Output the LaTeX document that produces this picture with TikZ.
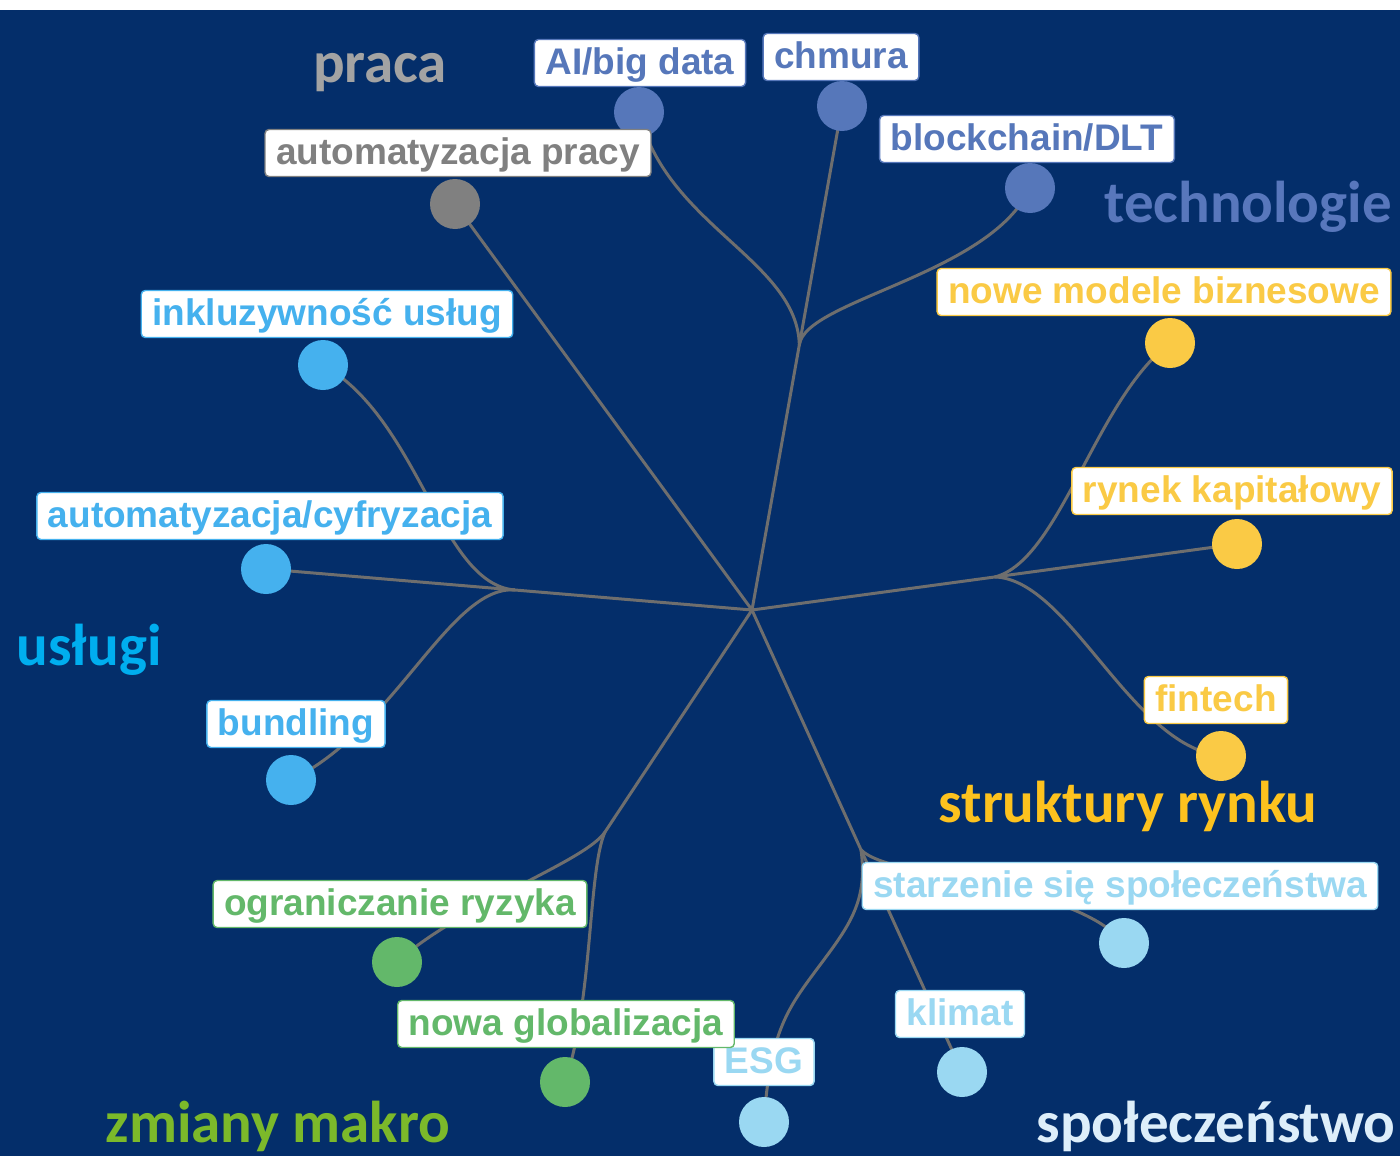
\documentclass[tikz,border=0pt]{standalone}
\usepackage{fontspec}
\newfontfamily\leaffont{Liberation Sans}
\newfontfamily\catfont{Carlito}
\usetikzlibrary{calc}
\pgfdeclarelayer{backdrop}
\pgfdeclarelayer{links}
\pgfsetlayers{backdrop,links,main}

\definecolor{navy}{HTML}{042E6A}
\definecolor{linkgray}{HTML}{6E6E6E}
% category colours
\definecolor{catPraca}{HTML}{A3A3A3}
\definecolor{catTech}{HTML}{5877BC}
\definecolor{catUslugi}{HTML}{00AEEF}
\definecolor{catRynek}{HTML}{FDC21E}
\definecolor{catMakro}{HTML}{7CB92A}
\definecolor{catSpol}{HTML}{DDEEFA}
% leaf colours
\definecolor{lfPraca}{HTML}{808080}
\definecolor{lfTech}{HTML}{5677BA}
\definecolor{lfUslugi}{HTML}{45B1EE}
\definecolor{lfRynek}{HTML}{FACA45}
\definecolor{lfMakro}{HTML}{63B86A}
\definecolor{lfSpol}{HTML}{9AD8F2}

\tikzset{
  leafbox/.style={draw=#1, text=#1, fill=white, rounded corners=4pt,
    line width=1.4pt, font=\leaffont\bfseries\fontsize{37}{40}\selectfont,
    inner xsep=11pt, inner ysep=0pt, minimum height=47pt,
    text height=30pt, text depth=7pt},
  leafdot/.style={circle, fill=#1, minimum size=50pt, inner sep=0pt},
  catlabel/.style={font=\catfont\bfseries\fontsize{59}{62}\selectfont,
    anchor=base, inner sep=0pt, text=#1},
  link/.style={draw=linkgray, line width=3pt, line cap=round, line join=round},
}

\begin{document}
\begin{tikzpicture}[x=1pt,y=-1pt]
\useasboundingbox (0,0) rectangle (1400,1156);
\begin{pgfonlayer}{backdrop}
  \fill[white] (0,0) rectangle (1400,10);
  \fill[navy] (0,10) rectangle (1400,1156);
\end{pgfonlayer}

% hub
\coordinate (hub) at (752,610);

% leaf dots
\node[leafdot=lfPraca]  (dAP) at (455,204) {};
\node[leafdot=lfTech]   (dAI) at (639,112) {};
\node[leafdot=lfTech]   (dCh) at (842,106) {};
\node[leafdot=lfTech]   (dBC) at (1030,188) {};
\node[leafdot=lfUslugi] (dIn) at (323,365) {};
\node[leafdot=lfUslugi] (dAC) at (266,569) {};
\node[leafdot=lfUslugi] (dBu) at (291,780) {};
\node[leafdot=lfRynek]  (dNM) at (1170,343) {};
\node[leafdot=lfRynek]  (dRy) at (1237,544) {};
\node[leafdot=lfRynek]  (dFi) at (1221,756) {};
\node[leafdot=lfSpol]   (dSt) at (1124,943) {};
\node[leafdot=lfSpol]   (dKl) at (962,1072) {};
\node[leafdot=lfSpol]   (dES) at (764,1122) {};
\node[leafdot=lfMakro]  (dOg) at (397,962) {};
\node[leafdot=lfMakro]  (dNG) at (565,1082) {};

% branch points
\coordinate (bT) at ($(hub)!0.526!(dCh)$);
\coordinate (bU) at ($(hub)!0.488!(dAC)$);
\coordinate (bS) at ($(hub)!0.501!(dRy)$);
\coordinate (bP) at ($(hub)!0.519!(dKl)$);
\coordinate (bM) at (605,832);

% leaf labels
\node[leafbox=lfTech]   (tAI) at (640,63)   {AI/big data};
\node[leafbox=lfTech]   (tCh) at (841,57)   {chmura};
\node[leafbox=lfTech]   (tBC) at (1027,139) {blockchain/DLT};
\node[leafbox=lfPraca]  (tAP) at (458,153)  {automatyzacja pracy};
\node[leafbox=lfUslugi] (tIn) at (327,314)  {inkluzywność usług};
\node[leafbox=lfUslugi] (tAC) at (270,516)  {automatyzacja/cyfryzacja};
\node[leafbox=lfUslugi] (tBu) at (296,724)  {bundling};
\node[leafbox=lfRynek]  (tNM) at (1164,292) {nowe modele biznesowe};
\node[leafbox=lfRynek]  (tRy) at (1232,491) {rynek kapitałowy};
\node[leafbox=lfRynek]  (tFi) at (1216,700) {fintech};
\node[leafbox=lfSpol]   (tSt) at (1120,886) {starzenie się społeczeństwa};
\node[leafbox=lfSpol]   (tKl) at (960,1014) {klimat};
\node[leafbox=lfSpol]   (tES) at (764,1062) {ESG};
\node[leafbox=lfMakro]  (tOg) at (400,904)  {ograniczanie ryzyka};
\node[leafbox=lfMakro]  (tNG) at (566,1024) {nowa globalizacja};

% category titles
\node[catlabel=catPraca]  (cPraca)  at (380,82)    {praca};
\node[catlabel=catTech]   (cTech)   at (1248,222)  {technologie};
\node[catlabel=catUslugi] (cUslugi) at (89,665)    {usługi};
\node[catlabel=catRynek]  (cRynek)  at (1128,822)  {struktury rynku};
\node[catlabel=catMakro]  (cMakro)  at (278,1142)  {zmiany makro};
\node[catlabel=catSpol]   (cSpol)   at (1216,1142) {społeczeństwo};

% tree connectors
\begin{pgfonlayer}{links}
  \draw[link] (hub) -- (dAP.center);
  \draw[link] (hub) -- (dCh.center);
  \draw[link] (bT) .. controls (797,260) and (665,225) .. (dAI.center);
  \draw[link] (bT) .. controls (805,300) and (990,275) .. (dBC.center);
  \draw[link] (hub) -- (dAC.center);
  \draw[link] (bU) .. controls (440,584) and (420,420) .. (dIn.center);
  \draw[link] (bU) .. controls (450,585) and (395,730) .. (dBu.center);
  \draw[link] (hub) -- (dRy.center);
  \draw[link] (bS) .. controls (1060,560) and (1095,400) .. (dNM.center);
  \draw[link] (bS) .. controls (1070,580) and (1130,745) .. (dFi.center);
  \draw[link] (hub) -- (bM);
  \draw[link] (bM) .. controls (585,862) and (460,905) .. (dOg.center);
  \draw[link] (bM) .. controls (588,870) and (593,1000) .. (dNG.center);
  \draw[link] (hub) -- (dKl.center);
  \draw[link] (bP) .. controls (890,880) and (1070,880) .. (dSt.center);
  \draw[link] (bP) .. controls (868,900) and (850,925) .. (820,965)
              .. controls (788,1008) and (770,1030) .. (dES.center);
\end{pgfonlayer}
\end{tikzpicture}
\end{document}
